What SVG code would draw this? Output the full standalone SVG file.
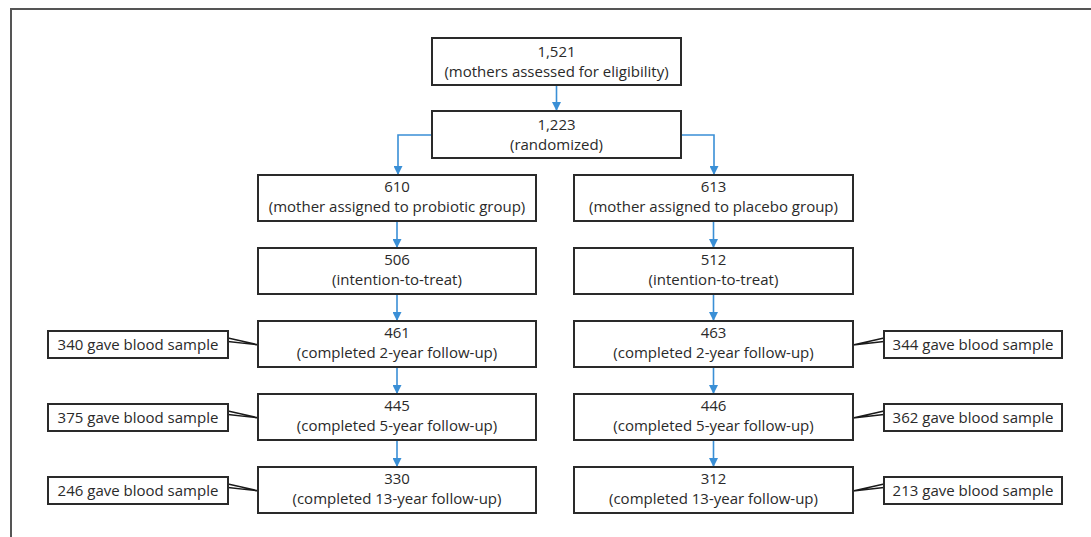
<svg xmlns="http://www.w3.org/2000/svg" width="1091" height="537" viewBox="0 0 1091 537">
<style>
.box{fill:#fff;stroke:#2a2a2a;stroke-width:2}
.t{font-family:"Open Sans","Noto Sans",sans-serif;font-size:15px;fill:#2a2a2a;text-anchor:middle}
.c{fill:none;stroke:#3a8fd6;stroke-width:1.6}
.s{fill:none;stroke:#1a1a1a;stroke-width:1.4}
.frame{fill:none;stroke:#555;stroke-width:2}
</style>
<defs>
<marker id="ah" viewBox="0 0 10 10" refX="10" refY="5" markerWidth="9" markerHeight="9" markerUnits="userSpaceOnUse" orient="auto">
<path d="M0,0 L10,5 L0,10 Z" fill="#3a8fd6"/>
</marker>
</defs>
<path class="frame" d="M11,537 L11,9 L1091,9"/>
<g id="connectors">
<line class="c" x1="556.5" y1="85" x2="556.5" y2="111" marker-end="url(#ah)"/>
<polyline class="c" points="432,135 398,135 398,175" marker-end="url(#ah)"/>
<polyline class="c" points="681,135 714,135 714,175" marker-end="url(#ah)"/>
<line class="c" x1="397" y1="221" x2="397" y2="248" marker-end="url(#ah)"/>
<line class="c" x1="397" y1="294" x2="397" y2="321" marker-end="url(#ah)"/>
<line class="c" x1="397" y1="367" x2="397" y2="394" marker-end="url(#ah)"/>
<line class="c" x1="397" y1="440" x2="397" y2="467" marker-end="url(#ah)"/>
<line class="c" x1="713.5" y1="221" x2="713.5" y2="248" marker-end="url(#ah)"/>
<line class="c" x1="713.5" y1="294" x2="713.5" y2="321" marker-end="url(#ah)"/>
<line class="c" x1="713.5" y1="367" x2="713.5" y2="394" marker-end="url(#ah)"/>
<line class="c" x1="713.5" y1="440" x2="713.5" y2="467" marker-end="url(#ah)"/>
<path class="s" d="M228,338 L259,345 M228,341.5 L259,345"/>
<path class="s" d="M228,411 L259,418 M228,414.5 L259,418"/>
<path class="s" d="M228,484 L259,491 M228,487.5 L259,491"/>
<path class="s" d="M884,338 L853,345 M884,341.5 L853,345"/>
<path class="s" d="M884,411 L853,418 M884,414.5 L853,418"/>
<path class="s" d="M884,484 L853,491 M884,487.5 L853,491"/>
</g>
<g id="n1521"><rect class="box" x="432" y="38" width="249" height="47"/><text class="t" x="556.5" y="57">1,521</text><text class="t" x="556.5" y="77">(mothers assessed for eligibility)</text></g>
<g id="n1223"><rect class="box" x="432" y="111" width="249" height="47"/><text class="t" x="556.5" y="130">1,223</text><text class="t" x="556.5" y="150">(randomized)</text></g>
<g id="n610"><rect class="box" x="258" y="175" width="278" height="46"/><text class="t" x="397" y="192">610</text><text class="t" x="397" y="212">(mother assigned to probiotic group)</text></g>
<g id="n613"><rect class="box" x="574" y="175" width="279" height="46"/><text class="t" x="713.5" y="192">613</text><text class="t" x="713.5" y="212">(mother assigned to placebo group)</text></g>
<g id="n506"><rect class="box" x="258" y="248" width="278" height="46"/><text class="t" x="397" y="265">506</text><text class="t" x="397" y="285">(intention-to-treat)</text></g>
<g id="n512"><rect class="box" x="574" y="248" width="279" height="46"/><text class="t" x="713.5" y="265">512</text><text class="t" x="713.5" y="285">(intention-to-treat)</text></g>
<g id="n461"><rect class="box" x="258" y="321" width="278" height="46"/><text class="t" x="397" y="338">461</text><text class="t" x="397" y="358">(completed 2-year follow-up)</text></g>
<g id="n463"><rect class="box" x="574" y="321" width="279" height="46"/><text class="t" x="713.5" y="338">463</text><text class="t" x="713.5" y="358">(completed 2-year follow-up)</text></g>
<g id="n445"><rect class="box" x="258" y="394" width="278" height="46"/><text class="t" x="397" y="411">445</text><text class="t" x="397" y="431">(completed 5-year follow-up)</text></g>
<g id="n446"><rect class="box" x="574" y="394" width="279" height="46"/><text class="t" x="713.5" y="411">446</text><text class="t" x="713.5" y="431">(completed 5-year follow-up)</text></g>
<g id="n330"><rect class="box" x="258" y="467" width="278" height="46"/><text class="t" x="397" y="484">330</text><text class="t" x="397" y="504">(completed 13-year follow-up)</text></g>
<g id="n312"><rect class="box" x="574" y="467" width="279" height="46"/><text class="t" x="713.5" y="484">312</text><text class="t" x="713.5" y="504">(completed 13-year follow-up)</text></g>
<g id="s340"><rect class="box" x="48" y="331" width="180" height="27"/><text class="t" x="138" y="350">340 gave blood sample</text></g>
<g id="s375"><rect class="box" x="48" y="404" width="180" height="27"/><text class="t" x="138" y="423">375 gave blood sample</text></g>
<g id="s246"><rect class="box" x="48" y="477" width="180" height="27"/><text class="t" x="138" y="496">246 gave blood sample</text></g>
<g id="s344"><rect class="box" x="884" y="331" width="178" height="27"/><text class="t" x="973" y="350">344 gave blood sample</text></g>
<g id="s362"><rect class="box" x="884" y="404" width="178" height="27"/><text class="t" x="973" y="423">362 gave blood sample</text></g>
<g id="s213"><rect class="box" x="884" y="477" width="178" height="27"/><text class="t" x="973" y="496">213 gave blood sample</text></g>
</svg>
